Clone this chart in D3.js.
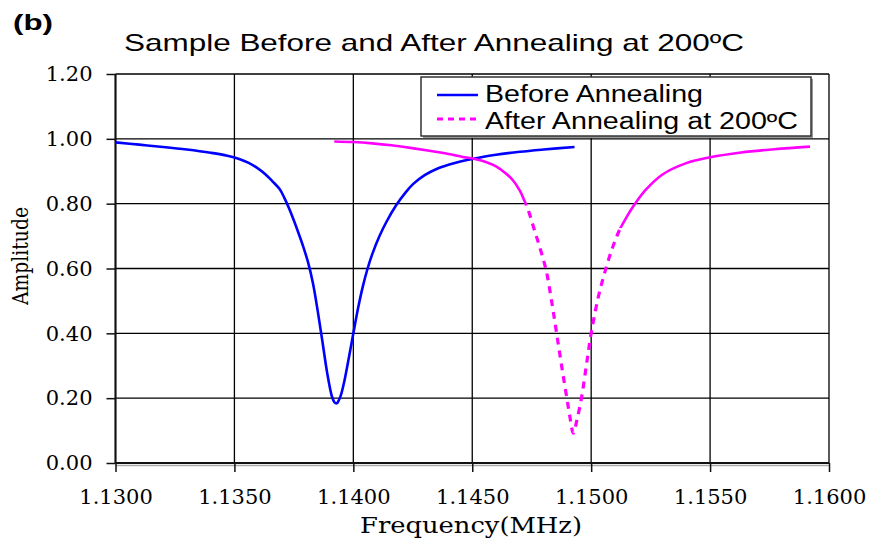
<!DOCTYPE html>
<html>
<head>
<meta charset="utf-8">
<script src="https://cdn.jsdelivr.net/npm/d3@7"></script>
<style>
  html, body { margin: 0; padding: 0; background: #fff; }
  svg { display: block; }
</style>
</head>
<body>
<svg id="chart" width="872" height="544"></svg>
<script>
// ---- data ----
const xTicks = [1.1300, 1.1350, 1.1400, 1.1450, 1.1500, 1.1550, 1.1600];
const yTicks = [0.00, 0.20, 0.40, 0.60, 0.80, 1.00, 1.20];

const beforeFreq = [1.1300, 1.1310, 1.1320, 1.1330, 1.1340, 1.1347, 1.1352, 1.1356, 1.1360, 1.1363,
  1.1366, 1.1369, 1.1371, 1.1373, 1.1375, 1.1377, 1.1379, 1.1381, 1.1383, 1.1385,
  1.1387, 1.1389, 1.1391, 1.1392, 1.1393, 1.1394, 1.1395, 1.1396, 1.1398, 1.1400,
  1.1402, 1.1404, 1.1406, 1.1408, 1.1411, 1.1414, 1.1418, 1.1422, 1.14252, 1.1430,
  1.1435, 1.1440, 1.1445, 1.1450, 1.1460, 1.1470, 1.1480, 1.1493];
const beforeAmp = [0.989, 0.982, 0.975, 0.967, 0.957, 0.948, 0.938, 0.926, 0.908, 0.891,
  0.869, 0.845, 0.818, 0.785, 0.748, 0.708, 0.666, 0.618, 0.555, 0.470,
  0.375, 0.278, 0.205, 0.188, 0.184, 0.195, 0.215, 0.245, 0.320, 0.400,
  0.478, 0.545, 0.600, 0.645, 0.700, 0.745, 0.795, 0.835, 0.861, 0.888,
  0.907, 0.920, 0.930, 0.938, 0.951, 0.960, 0.967, 0.975];

const afterFreq = [1.1392, 1.1400, 1.1408, 1.1416, 1.1424, 1.1432, 1.1440, 1.1446, 1.1451, 1.1456,
  1.1460, 1.1464, 1.1467, 1.1470, 1.1472, 1.1474, 1.1476, 1.1478, 1.1480, 1.1481,
  1.1482, 1.1484, 1.1486, 1.1488, 1.1490, 1.1491, 1.14925, 1.1494, 1.1496, 1.1498,
  1.1500, 1.1503, 1.1506, 1.1509, 1.1512, 1.1515, 1.1518, 1.1523, 1.1530, 1.1540,
  1.1550, 1.1563, 1.1577, 1.1592];
const afterAmp = [0.992, 0.990, 0.986, 0.980, 0.972, 0.963, 0.953, 0.944, 0.938, 0.928,
  0.915, 0.894, 0.873, 0.840, 0.808, 0.770, 0.722, 0.675, 0.625, 0.597,
  0.560, 0.470, 0.375, 0.280, 0.190, 0.145, 0.092, 0.132, 0.204, 0.302,
  0.400, 0.512, 0.595, 0.665, 0.720, 0.760, 0.795, 0.843, 0.890, 0.925,
  0.943, 0.958, 0.968, 0.976];

const seriesNames = ["Before Annealing", "After Annealing at 200ºC"];
const titleText = "Sample Before and After Annealing at 200ºC";

// ---- layout ----
const svg = d3.select("#chart");
const W = 872, H = 544;
const x = d3.scaleLinear().domain([1.13, 1.16]).range([115.5, 829]);
const y = d3.scaleLinear().domain([0, 1.2]).range([463, 74]);

svg.append("rect").attr("width", W).attr("height", H).attr("fill", "#fff");

// gridlines
const grid = svg.append("g");
grid.selectAll("line.h").data(yTicks).enter().append("line")
  .attr("x1", x.range()[0]).attr("x2", x.range()[1])
  .attr("y1", d => y(d)).attr("y2", d => y(d))
  .attr("stroke", "#000").attr("stroke-width", 1.3);
grid.selectAll("line.v").data(xTicks).enter().append("line")
  .attr("y1", y.range()[0]).attr("y2", y.range()[1])
  .attr("x1", d => x(d)).attr("x2", d => x(d))
  .attr("stroke", "#000").attr("stroke-width", 1.3);

// axis shadow
svg.append("line").attr("x1", x.range()[0]).attr("x2", x.range()[1])
  .attr("y1", 465.5).attr("y2", 465.5).attr("stroke", "#aaa").attr("stroke-width", 1.5);

// axes
const xAxis = d3.axisBottom(x).tickValues(xTicks).tickFormat(d3.format(".4f")).tickSize(9).tickPadding(17);
const yAxis = d3.axisLeft(y).tickValues(yTicks).tickFormat(d3.format(".2f")).tickSize(9).tickPadding(14);

const gx = svg.append("g").attr("transform", `translate(0,${y(0)})`).call(xAxis);
const gy = svg.append("g").attr("transform", `translate(${x(1.13)},0)`).call(yAxis);
[gx, gy].forEach(g => {
  g.select(".domain").attr("stroke", "#111").attr("stroke-width", 2);
  g.selectAll(".tick line").attr("stroke", "#111").attr("stroke-width", 1.5);
  g.selectAll(".tick text").attr("fill", "#000")
    .style("font-family", "'DejaVu Serif', serif").style("font-size", "21px");
});
gx.select(".domain").attr("d", `M${x.range()[0]},0H${x.range()[1]}`);
gy.select(".domain").attr("d", `M0,${y.range()[0]}V${y.range()[1]}`);

// axis titles
svg.append("text")
  .attr("x", 471).attr("y", 533).attr("text-anchor", "middle")
  .attr("textLength", 222).attr("lengthAdjust", "spacingAndGlyphs")
  .style("font-family", "'DejaVu Serif', serif").style("font-size", "23px")
  .text("Frequency(MHz)");
svg.append("text")
  .attr("transform", "translate(28,256) rotate(-90)").attr("text-anchor", "middle")
  .attr("textLength", 98).attr("lengthAdjust", "spacingAndGlyphs")
  .style("font-family", "'DejaVu Serif', serif").style("font-size", "23px")
  .text("Amplitude");

// title
svg.append("text")
  .attr("x", 434).attr("y", 51).attr("text-anchor", "middle")
  .attr("textLength", 620).attr("lengthAdjust", "spacingAndGlyphs")
  .style("font-family", "'Liberation Sans', Arial, sans-serif").style("font-size", "24px")
  .text(titleText);
svg.append("text")
  .attr("x", 13).attr("y", 30)
  .attr("textLength", 40).attr("lengthAdjust", "spacingAndGlyphs")
  .style("font-family", "'Liberation Sans', Arial, sans-serif").style("font-size", "22px")
  .style("font-weight", "bold")
  .text("(b)");

// lines
const line = d3.line().x(d => x(d[0])).y(d => y(d[1])).curve(d3.curveCatmullRom.alpha(0.5));
const beforeData = beforeFreq.map((f, i) => [f, beforeAmp[i]]);
const afterData = afterFreq.map((f, i) => [f, afterAmp[i]]);

svg.append("path").datum(beforeData).attr("d", line)
  .attr("fill", "none").attr("stroke", "#0000ff").attr("stroke-width", 2.6)
  .attr("stroke-linejoin", "round");

// After: solid where flat, dashed where steep
const minIdx = d3.minIndex(afterAmp);
const xMinPx = x(afterFreq[minIdx]);
const defs = svg.append("defs");
const solidClip = defs.append("clipPath").attr("id", "solidClip");
solidClip.append("rect").attr("x", 0).attr("y", 0).attr("width", xMinPx).attr("height", y(0.795));
solidClip.append("rect").attr("x", xMinPx).attr("y", 0).attr("width", W - xMinPx).attr("height", y(0.725));
const dashClip = defs.append("clipPath").attr("id", "dashClip");
dashClip.append("rect").attr("x", 0).attr("y", y(0.795)).attr("width", xMinPx).attr("height", H);
dashClip.append("rect").attr("x", xMinPx).attr("y", y(0.725)).attr("width", W - xMinPx).attr("height", H);

svg.append("path").datum(afterData).attr("d", line).attr("clip-path", "url(#solidClip)")
  .attr("fill", "none").attr("stroke", "#ff00ff").attr("stroke-width", 2.6);
svg.append("path").datum(afterData).attr("d", line).attr("clip-path", "url(#dashClip)")
  .attr("fill", "none").attr("stroke", "#ff00ff").attr("stroke-width", 3.2)
  .attr("stroke-dasharray", "7,6");

// legend
const lg = svg.append("g");
lg.append("rect").attr("x", 423).attr("y", 79).attr("width", 390).attr("height", 59).attr("fill", "#999");
lg.append("rect").attr("x", 421).attr("y", 77).attr("width", 390).attr("height", 59)
  .attr("fill", "#fff").attr("stroke", "#333").attr("stroke-width", 1.5);
lg.append("line").attr("x1", 437).attr("x2", 478).attr("y1", 95).attr("y2", 95)
  .attr("stroke", "#0000ff").attr("stroke-width", 2.6);
lg.append("line").attr("x1", 437).attr("x2", 478).attr("y1", 119).attr("y2", 119)
  .attr("stroke", "#ff00ff").attr("stroke-width", 3).attr("stroke-dasharray", "6,5");
lg.append("text").attr("x", 485).attr("y", 102)
  .attr("textLength", 218).attr("lengthAdjust", "spacingAndGlyphs")
  .style("font-family", "'Liberation Sans', Arial, sans-serif").style("font-size", "23px")
  .text(seriesNames[0]);
lg.append("text").attr("x", 485).attr("y", 129)
  .attr("textLength", 313).attr("lengthAdjust", "spacingAndGlyphs")
  .style("font-family", "'Liberation Sans', Arial, sans-serif").style("font-size", "23px")
  .text(seriesNames[1]);
</script>
</body>
</html>
